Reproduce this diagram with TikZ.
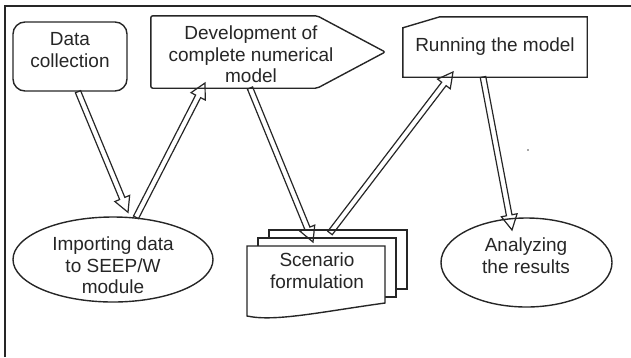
\documentclass[tikz,border=0pt]{standalone}
\usepackage{fontspec}
\setmainfont{Liberation Sans}
\usetikzlibrary{calc,shapes.geometric}
\newcommand\harrow[3]{%
  \coordinate (#3s) at (#1);
  \coordinate (#3e) at (#2);
  \coordinate (#3h) at ($(#3e)!15pt!(#3s)$);
  \draw[harr] ($(#3s)!2.8pt!90:(#3e)$) -- ($(#3h)!2.8pt!90:(#3e)$) -- ($(#3h)!8pt!90:(#3e)$)
     -- (#3e) -- ($(#3h)!8pt!-90:(#3e)$) -- ($(#3h)!2.8pt!-90:(#3e)$) -- ($(#3s)!2.8pt!-90:(#3e)$) -- cycle;
}
\begin{document}
\begin{tikzpicture}[x=1pt,y=-1pt,
  shp/.style={draw=black!85, line width=1.4pt, inner sep=0pt},
  box/.style={inner sep=0pt},
  txt/.style={font=\fontsize{19}{21.5}\selectfont, align=center, text=black!85, inner sep=0pt},
  harr/.style={draw=black!85, line width=1.2pt, line join=miter}]
\useasboundingbox (0,0) rectangle (631,357);
\draw[line width=1.5pt, black!85] (5,357) -- (5,6) -- (631,6);

% shapes
\node[shp, rounded corners=12pt, minimum width=114pt, minimum height=69pt] (dc) at (70,56.5) {};

\node[box, minimum width=234pt, minimum height=72pt] (dev) at (268,52) {};
\draw[shp, rounded corners=2pt] (dev.north west) -- ($(dev.north east)+(-68,0)$) -- (dev.east)
   -- ($(dev.south east)+(-68,0)$) -- (dev.south west) -- cycle;

\node[box, minimum width=184pt, minimum height=60pt] (run) at (495,47) {};
\draw[shp] (run.south west) -- ($(run.north west)+(0,11)$) -- ($(run.north west)+(37,0)$)
   -- (run.north east) -- (run.south east) -- cycle;

\node[shp, ellipse, minimum width=200pt, minimum height=85pt] (imp) at (113,259.5) {};
\node[shp, ellipse, minimum width=171pt, minimum height=89pt] (ana) at (526.5,262.5) {};

% scenario multi-document
\node[box, minimum width=160pt, minimum height=89pt] (sc) at (327,274.5) {};
\filldraw[shp, fill=white] (269,230) rectangle (407,289);
\filldraw[shp, fill=white] (258,238) rectangle (396,297);
\filldraw[shp, fill=white] (247,246) -- (385,246) -- (385,303)
   .. controls (320,312) and (275,322) .. (247,316) -- cycle;

% texts
\node[txt] (dct) at (70,50) {Data\\collection};
\node[txt] (devt) at (251,54.5) {Development of\\complete numerical\\model};
\node[txt] (runt) at (495,47) {Running the model};
\node[txt] (impt) at (113,265.5) {Importing data\\to SEEP/W\\module};
\node[txt] (anat) at (526,255.5) {Analyzing\\the results};
\node[txt] (sct) at (317,270.5) {Scenario\\formulation};

% arrows
\harrow{$(dc.south)+(8,0)$}{$(imp.north)+(15,-4)$}{a}
\harrow{$(imp.north)+(23,1)$}{$(dev.center)+(-63,31)$}{b}
\harrow{$(dev.center)+(-18,36)$}{$(sc.center)+(-14,-32.5)$}{c}
\harrow{$(sc.center)+(3,-41.5)$}{$(run.center)+(-42,25)$}{d}
\harrow{$(run.center)+(-12,30)$}{$(ana.center)+(-14.5,-32.5)$}{e}

\fill[black!70] (528,150) circle (0.8pt);
\end{tikzpicture}
\end{document}
